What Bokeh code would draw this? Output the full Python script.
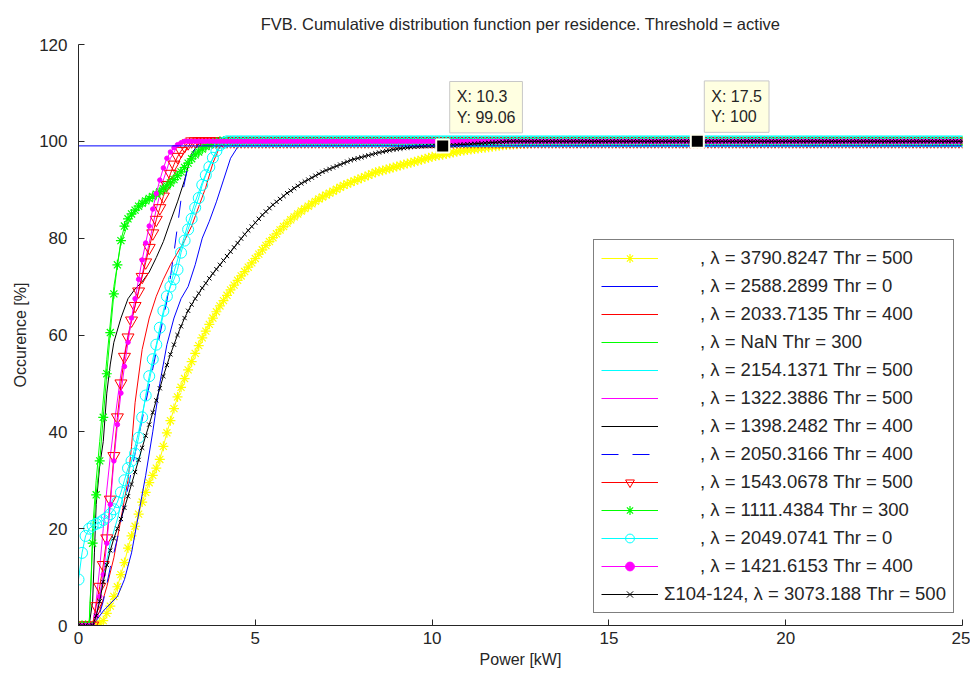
from bokeh.plotting import figure
from bokeh.models import Range1d, Legend, LegendItem, Label, FixedTicker
from bokeh.embed import file_html
from bokeh.resources import INLINE

TITLE = "FVB. Cumulative distribution function per residence. Threshold = active"
X_LABEL = "Power [kW]"
Y_LABEL = "Occurence [%]"
X_TICKS = [0, 5, 10, 15, 20, 25]
Y_TICKS = [0, 20, 40, 60, 80, 100, 120]

# sampling grid of the marker series (kW)
POWER_KW = [
    0.0, 0.1, 0.2, 0.3, 0.4, 0.5, 0.6, 0.7, 0.8, 0.9,
    1.0, 1.1, 1.2, 1.3, 1.4, 1.5, 1.6, 1.7, 1.8, 1.9,
    2.0, 2.1, 2.2, 2.3, 2.4, 2.5, 2.6, 2.7, 2.8, 2.9,
    3.0, 3.1, 3.2, 3.3, 3.4, 3.5, 3.6, 3.7, 3.8, 3.9,
    4.0, 4.1, 4.2, 4.3, 4.4, 4.5, 4.6, 4.7, 4.8, 4.9,
    5.0, 5.1, 5.2, 5.3, 5.4, 5.5, 5.6, 5.7, 5.8, 5.9,
    6.0, 6.1, 6.2, 6.3, 6.4, 6.5, 6.6, 6.7, 6.8, 6.9,
    7.0, 7.1, 7.2, 7.3, 7.4, 7.5, 7.6, 7.7, 7.8, 7.9,
    8.0, 8.1, 8.2, 8.3, 8.4, 8.5, 8.6, 8.7, 8.8, 8.9,
    9.0, 9.1, 9.2, 9.3, 9.4, 9.5, 9.6, 9.7, 9.8, 9.9,
    10.0, 10.1, 10.2, 10.3, 10.4, 10.5, 10.6, 10.7, 10.8, 10.9,
    11.0, 11.1, 11.2, 11.3, 11.4, 11.5, 11.6, 11.7, 11.8, 11.9,
    12.0, 12.1, 12.2, 12.3, 12.4, 12.5, 12.6, 12.7, 12.8, 12.9,
    13.0, 13.1, 13.2, 13.3, 13.4, 13.5, 13.6, 13.7, 13.8, 13.9,
    14.0, 14.1, 14.2, 14.3, 14.4, 14.5, 14.6, 14.7, 14.8, 14.9,
    15.0, 15.1, 15.2, 15.3, 15.4, 15.5, 15.6, 15.7, 15.8, 15.9,
    16.0, 16.1, 16.2, 16.3, 16.4, 16.5, 16.6, 16.7, 16.8, 16.9,
    17.0, 17.1, 17.2, 17.3, 17.4, 17.5, 17.6, 17.7, 17.8, 17.9,
    18.0, 18.1, 18.2, 18.3, 18.4, 18.5, 18.6, 18.7, 18.8, 18.9,
    19.0, 19.1, 19.2, 19.3, 19.4, 19.5, 19.6, 19.7, 19.8, 19.9,
    20.0, 20.1, 20.2, 20.3, 20.4, 20.5, 20.6, 20.7, 20.8, 20.9,
    21.0, 21.1, 21.2, 21.3, 21.4, 21.5, 21.6, 21.7, 21.8, 21.9,
    22.0, 22.1, 22.2, 22.3, 22.4, 22.5, 22.6, 22.7, 22.8, 22.9,
    23.0, 23.1, 23.2, 23.3, 23.4, 23.5, 23.6, 23.7, 23.8, 23.9,
    24.0, 24.1, 24.2, 24.3, 24.4, 24.5, 24.6, 24.7, 24.8, 24.9,
    25.0,
]
SATURATED = 100.0  # every CDF stays at 100 % once it gets there

# ---- marker series: values on the POWER_KW grid until saturation ----
YELLOW_STAR = [
    0, 0, 0, 0, 0, 0, 0.5, 1, 2.5, 4,
    6, 8, 10.5, 13, 16, 18.5, 20.5, 23, 25.5, 27.5,
    29.5, 31, 32.5, 34.3, 37, 39.8, 42.3, 44.8, 47.2, 49.2,
    51, 52.8, 54.5, 56.2, 57.8, 59.4, 60.8, 62.2, 63.5, 64.8,
    66, 67.1, 68.2, 69.3, 70.3, 71.3, 72.2, 73.1, 74, 74.9,
    75.8, 76.7, 77.6, 78.5, 79.3, 80.1, 80.9, 81.7, 82.4, 83.1,
    83.8, 84.4, 85, 85.6, 86.1, 86.6, 87.1, 87.6, 88.1, 88.5,
    88.9, 89.3, 89.7, 90.1, 90.5, 90.9, 91.2, 91.5, 91.8, 92.1,
    92.4, 92.7, 93, 93.3, 93.6, 93.8, 94, 94.2, 94.4, 94.6,
    94.8, 95, 95.2, 95.4, 95.6, 95.8, 96, 96.2, 96.4, 96.6,
    96.8, 96.95, 97.1, 97.25, 97.4, 97.55, 97.7, 97.85, 98, 98.1,
    98.2, 98.3, 98.4, 98.5, 98.6, 98.7, 98.8, 98.9, 99, 99.1,
    99.2, 99.25, 99.3, 99.35, 99.4, 99.45, 99.5, 99.55, 99.6, 99.65,
    99.7, 99.73, 99.76, 99.79, 99.82, 99.85, 99.88, 99.91, 99.94, 99.97,
    100,
]
RED_TRIANGLE = [
    0, 0, 0, 0, 0, 4, 8, 12.5, 18, 26,
    35, 43, 50, 55.5, 59.5, 63, 66, 69, 72, 75,
    78, 81, 83.8, 86.2, 88.6, 91, 93.3, 95.2, 96.8, 98,
    99, 99.6, 100,
]
GREEN_STAR = [
    0, 0, 0, 0, 17, 27, 34, 43, 52, 60.5,
    68.5, 74.5, 79.5, 82.5, 84, 85, 85.8, 86.6, 87.2, 87.7,
    88.2, 88.6, 89.1, 89.6, 90.2, 90.8, 91.4, 92.1, 92.9, 93.7,
    94.6, 95.5, 96.4, 97.2, 97.8, 98.4, 98.9, 99.3, 99.6, 99.8,
    100,
]
CYAN_CIRCLE = [
    9.5, 15, 18.5, 20, 20.6, 21, 21.3, 21.8, 22.3, 23,
    24, 25.5, 27.5, 30, 32.5, 34, 35.5, 38.8, 43, 47.5,
    51.5, 55, 58, 61.5, 65, 68, 70, 71.5, 73.5, 77,
    79.5, 81.8, 84, 86.3, 88.3, 91, 93, 94.7, 96.6, 98,
    99.2, 99.7, 100,
]
MAGENTA_DOT = [
    0, 0, 0, 0, 0, 2, 6, 10.5, 17, 25,
    34, 41.5, 48, 53.5, 58.5, 63.5, 67.5, 71.5, 75.5, 79,
    82.5, 86, 89.2, 92, 94.5, 96.5, 97.8, 98.7, 99.3, 99.7,
    100,
]
BLACK_CROSS = [
    0, 0, 0, 0, 0, 2, 5, 9, 12.5, 15.5,
    18, 20, 22, 24.3, 26.7, 29.2, 31.7, 34.2, 36.7, 39.2,
    41.5, 44, 46.5, 49, 51.5, 53.8, 56, 58, 60, 61.8,
    63.5, 65, 66.3, 67.5, 68.6, 69.7, 70.7, 71.7, 72.7, 73.6,
    74.5, 75.4, 76.3, 77.2, 78.1, 79, 79.9, 80.8, 81.6, 82.4,
    83.2, 84, 84.8, 85.5, 86.2, 86.9, 87.5, 88.1, 88.7, 89.3,
    89.8, 90.3, 90.8, 91.3, 91.7, 92.1, 92.5, 92.9, 93.3, 93.7,
    94, 94.3, 94.6, 94.9, 95.2, 95.5, 95.8, 96.1, 96.3, 96.5,
    96.7, 96.9, 97.1, 97.3, 97.5, 97.7, 97.85, 98, 98.15, 98.3,
    98.4, 98.5, 98.6, 98.7, 98.8, 98.85, 98.9, 98.95, 99, 99.02,
    99.04, 99.05, 99.06, 99.06, 99.1, 99.15, 99.2, 99.25, 99.3, 99.35,
    99.4, 99.45, 99.5, 99.55, 99.6, 99.65, 99.7, 99.75, 99.8, 99.85,
    99.9, 99.95, 100,
]

# ---- line-only series: (kW, %) break points ----
BLUE_X = [0, 0.4, 0.5, 0.7, 0.9, 1.1, 1.3, 1.5, 1.7, 1.9, 2.1, 2.3, 2.5, 2.7, 2.9,
          3.1, 3.3, 3.5, 3.7, 3.9, 4.1, 4.3, 4.5, 4.7, 25]
BLUE_Y = [0, 0, 1, 3, 4.5, 6, 9.5, 15, 23, 31, 40, 50, 58, 63.5, 67.5,
          70, 74.5, 80, 83.5, 87.5, 92, 96.5, 98.8, 100, 100]
RED_X = [0, 0.4, 0.6, 0.8, 1.0, 1.2, 1.4, 1.5, 1.6, 1.8, 2.0, 2.2, 2.4, 2.6, 2.8,
         3.0, 3.2, 3.4, 3.6, 3.8, 4.0, 4.2, 25]
RED_Y = [0, 0, 3, 8, 14, 22, 30, 37, 46, 57, 63.5, 68, 71.5, 74.5, 77,
         79.5, 82.5, 86.5, 90.5, 95.5, 99, 100, 100]
GREEN_X = [0, 0.3, 0.35, 0.4, 0.5, 0.6, 0.8, 1.0, 1.2, 1.4, 1.6, 2.0, 2.4, 2.8,
           3.2, 3.6, 4.0, 25]
GREEN_Y = [0, 0, 8, 20, 30, 38, 55, 70, 79, 83, 85.5, 88, 90.5, 93.5,
           97, 99.3, 100, 100]
CYAN_X = [0, 0.4, 0.5, 0.7, 0.9, 1.1, 1.3, 1.5, 1.7, 1.9, 2.1, 2.3, 2.5, 2.7, 2.9,
          3.1, 3.3, 3.5, 3.7, 3.9, 4.1, 4.3, 25]
CYAN_Y = [0, 0, 2, 10, 17, 22, 28, 34, 40, 47, 54, 61, 67.5, 73, 78,
          83, 87.5, 91.5, 95, 97.8, 99.5, 100, 100]
MAGENTA_X = [0, 0.4, 0.5, 0.6, 0.7, 0.8, 0.9, 1.0, 1.2, 1.4, 1.6, 1.8, 2.0, 2.2,
             2.4, 2.6, 2.8, 3.0, 25]
MAGENTA_Y = [0, 0, 5, 12, 20, 28, 35, 41, 52, 60, 66, 72.5, 79, 86,
             92, 96.5, 99, 100, 100]
BLACK_X = [0, 0.3, 0.4, 0.45, 0.5, 0.6, 0.7, 0.8, 0.9, 1.0, 1.2, 1.4, 1.6, 1.8,
           2.0, 2.2, 2.4, 2.6, 2.8, 3.0, 3.2, 3.4, 3.6, 25]
BLACK_Y = [0, 0, 5, 15, 25, 33, 38, 48, 54, 58.5, 63.5, 67.5, 69.5, 71,
           73, 76, 79.3, 83.5, 87.5, 92, 97.5, 99.5, 100, 100]
BLUE_DASH_X = [0, 0.5, 0.7, 0.9, 1.1, 1.3, 1.5, 1.7, 1.9, 2.1, 2.3, 2.5, 2.7, 2.9,
               3.1, 3.3, 3.5, 3.7, 25]
BLUE_DASH_Y = [0, 0, 5, 12, 18, 25, 32, 39, 46, 53, 60, 67, 77, 88,
               95, 98.5, 99.5, 100, 100]

# horizontal reference line and the two data tips
REF_LINE_X = [0, 25]
REF_LINE_Y = [99.06, 99.06]
TIP_X = [10.3, 17.5]
TIP_Y = [99.06, 100]

LABELS = [
    ", λ = 3790.8247 Thr = 500",
    ", λ = 2588.2899 Thr = 0",
    ", λ = 2033.7135 Thr = 400",
    ", λ = NaN Thr = 300",
    ", λ = 2154.1371 Thr = 500",
    ", λ = 1322.3886 Thr = 500",
    ", λ = 1398.2482 Thr = 400",
    ", λ = 2050.3166 Thr = 400",
    ", λ = 1543.0678 Thr = 500",
    ", λ = 1111.4384 Thr = 300",
    ", λ = 2049.0741 Thr = 0",
    ", λ = 1421.6153 Thr = 400",
    "Σ104-124, λ = 3073.188 Thr = 500",
]
PAD = "\u00a0" * 7

FONT = "Liberation Sans"
TXT = "#262626"


def full(rise):
    return rise + [SATURATED] * (len(POWER_KW) - len(rise))


p = figure(width=970, height=673, output_backend="svg", toolbar_location=None,
           x_range=Range1d(0, 25), y_range=Range1d(0, 120),
           min_border_left=78, min_border_right=8, min_border_top=43,
           min_border_bottom=48)
p.title.text = TITLE
p.title.align = "center"
p.title.text_font = FONT
p.title.text_font_size = "16.5px"
p.title.text_font_style = "normal"
p.title.text_color = TXT
p.title.standoff = 24

p.xgrid.visible = False
p.ygrid.visible = False
p.outline_line_color = None
p.background_fill_color = "white"
p.border_fill_color = "white"

for ax, ticks, lab in ((p.xaxis[0], X_TICKS, X_LABEL), (p.yaxis[0], Y_TICKS, Y_LABEL)):
    ax.ticker = FixedTicker(ticks=ticks)
    ax.axis_label = lab
    ax.axis_label_text_font = FONT
    ax.axis_label_text_font_size = "16px"
    ax.axis_label_text_font_style = "normal"
    ax.axis_label_text_color = TXT
    ax.major_label_text_font = FONT
    ax.major_label_text_font_size = "17px"
    ax.major_label_text_color = TXT
    ax.major_tick_in = 6
    ax.major_tick_out = 0
    ax.minor_tick_line_color = None
    ax.axis_line_color = TXT
    ax.major_tick_line_color = TXT
p.xaxis[0].major_label_standoff = 6
p.xaxis[0].axis_label_standoff = 4
p.yaxis[0].major_label_standoff = 11
p.yaxis[0].axis_label_standoff = 7

items = []


def add_line(x, y, color, label, dash="solid"):
    r = p.line(x, y, line_color=color, line_width=1, line_dash=dash)
    items.append(LegendItem(label=label, renderers=[r]))


def add_marked(y_rise, color, label, marker, size, fill=None, lw=1.0):
    y = full(y_rise)
    r1 = p.line(POWER_KW, y, line_color=color, line_width=1)
    r2 = p.scatter(POWER_KW, y, marker=marker, size=size, line_color=color,
                   fill_color=fill, line_width=lw)
    items.append(LegendItem(label=label, renderers=[r1, r2]))


add_marked(YELLOW_STAR, "#FFFF00", PAD + LABELS[0], "asterisk", 10, lw=1.2)
add_line(BLUE_X, BLUE_Y, "#0000FF", PAD + LABELS[1])
add_line(RED_X, RED_Y, "#FF0000", PAD + LABELS[2])
add_line(GREEN_X, GREEN_Y, "#00FF00", PAD + LABELS[3])
add_line(CYAN_X, CYAN_Y, "#00FFFF", PAD + LABELS[4])
add_line(MAGENTA_X, MAGENTA_Y, "#FF00FF", PAD + LABELS[5])
add_line(BLACK_X, BLACK_Y, "#000000", PAD + LABELS[6])
add_line(BLUE_DASH_X, BLUE_DASH_Y, "#0000FF", PAD + LABELS[7], dash="17 14")
add_marked(RED_TRIANGLE, "#FF0000", PAD + LABELS[8], "inverted_triangle", 12)
add_marked(GREEN_STAR, "#00FF00", PAD + LABELS[9], "asterisk", 10, lw=1.2)
add_marked(CYAN_CIRCLE, "#00FFFF", PAD + LABELS[10], "circle", 11)
add_marked(MAGENTA_DOT, "#FF00FF", PAD + LABELS[11], "circle", 4.5, fill="#FF00FF")
add_marked(BLACK_CROSS, "#000000", LABELS[12], "x", 6)

p.line(REF_LINE_X, REF_LINE_Y, line_color="#0000FF", line_width=1)

p.scatter(TIP_X, TIP_Y, marker="square", size=13, fill_color="black",
          line_color="#FFFFF0", line_width=2)
for tx, ty, tyoff in zip(TIP_X, TIP_Y, (13, 9)):
    p.add_layout(Label(x=tx, y=ty, x_offset=7, y_offset=tyoff,
                       text=f"X: {tx:g}\nY: {ty:g}",
                       text_font=FONT, text_font_size="16px", text_color=TXT,
                       text_align="left", text_baseline="bottom",
                       background_fill_color="#FFFFE1", background_fill_alpha=1,
                       border_line_color="#C8C8C8", border_line_width=1,
                       padding=7))

legend = Legend(items=items, location=(515, 12.5))
legend.label_text_font = FONT
legend.label_text_font_size = "18.5px"
legend.label_text_color = TXT
legend.glyph_width = 57
legend.glyph_height = 22
legend.label_height = 22
legend.label_standoff = 6
legend.spacing = 6
legend.padding = 7
legend.margin = 0
legend.border_line_color = "black"
legend.border_line_width = 1
legend.background_fill_color = "white"
legend.background_fill_alpha = 1
p.add_layout(legend)

with open("out.html", "w", encoding="utf-8") as f:
    f.write(file_html(p, INLINE))
